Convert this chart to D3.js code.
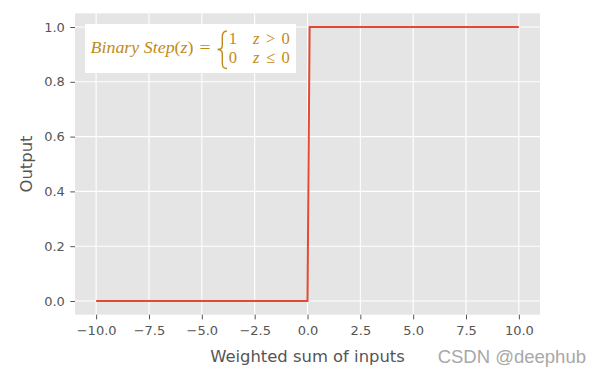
<!DOCTYPE html>
<html>
<head>
<meta charset="utf-8">
<script src="https://cdn.jsdelivr.net/npm/d3@7"></script>
<style>
  html, body { margin: 0; padding: 0; background: #fff; }
  svg { display: block; }
</style>
</head>
<body>
<svg id="chart" width="600" height="376"></svg>
<script>
// ---- data ----
const xValues = [-10, 0, 0.1, 10];
const yValues = [0, 0, 1, 1];
const xTicks = [-10, -7.5, -5, -2.5, 0, 2.5, 5, 7.5, 10];
const yTicks = [0, 0.2, 0.4, 0.6, 0.8, 1.0];
const xLabel = "Weighted sum of inputs";
const yLabel = "Output";
const watermark = "CSDN @deephub";

// ---- layout ----
const W = 600, H = 376;
const plot = { left: 75, right: 540, top: 13.3, bottom: 314.7 };
const svg = d3.select("#chart");

const x = d3.scaleLinear().domain([-11, 11]).range([plot.left, plot.right]);
const y = d3.scaleLinear().domain([-0.05, 1.05]).range([plot.bottom, plot.top]);

// background
svg.append("rect")
  .attr("x", plot.left).attr("y", plot.top)
  .attr("width", plot.right - plot.left).attr("height", plot.bottom - plot.top)
  .attr("fill", "#E5E5E5");

// grid
const grid = svg.append("g");
grid.selectAll("line.vx").data(xTicks).enter().append("line")
  .attr("x1", d => x(d)).attr("x2", d => x(d))
  .attr("y1", plot.top).attr("y2", plot.bottom)
  .attr("stroke", "#fff").attr("stroke-width", 1.1);
grid.selectAll("line.hy").data(yTicks).enter().append("line")
  .attr("y1", d => y(d)).attr("y2", d => y(d))
  .attr("x1", plot.left).attr("x2", plot.right)
  .attr("stroke", "#fff").attr("stroke-width", 1.1);

// axes
const fmt = d3.format(".1f");
const xAxis = d3.axisBottom(x).tickValues(xTicks).tickFormat(fmt).tickSize(4.7).tickPadding(6.5);
const yAxis = d3.axisLeft(y).tickValues(yTicks).tickFormat(fmt).tickSize(4.7).tickPadding(5.5);

const gx = svg.append("g").attr("transform", `translate(0,${plot.bottom})`).call(xAxis);
const gy = svg.append("g").attr("transform", `translate(${plot.left},0)`).call(yAxis);
[gx, gy].forEach(g => {
  g.select(".domain").remove();
  g.selectAll(".tick line").attr("stroke", "#555555").attr("stroke-width", 1);
  g.selectAll(".tick text")
    .attr("fill", "#555555")
    .style("font-family", "DejaVu Sans")
    .style("font-size", "13px");
});

// line
const pts = xValues.map((v, i) => [v, yValues[i]]);
svg.append("path")
  .datum(pts)
  .attr("d", d3.line().x(d => x(d[0])).y(d => y(d[1])))
  .attr("fill", "none")
  .attr("stroke", "#E24A33")
  .attr("stroke-width", 2);

// axis labels
svg.append("text")
  .attr("x", (plot.left + plot.right) / 2).attr("y", 361.5)
  .attr("text-anchor", "middle")
  .attr("fill", "#555555")
  .style("font-family", "DejaVu Sans").style("font-size", "16.4px")
  .text(xLabel);

svg.append("text")
  .attr("transform", `translate(32,${(plot.top + plot.bottom) / 2}) rotate(-90)`)
  .attr("text-anchor", "middle")
  .attr("fill", "#555555")
  .style("font-family", "DejaVu Sans").style("font-size", "16.4px")
  .text(yLabel);

// annotation box
const gold = "#BF8B16";
const ann = svg.append("g");
ann.append("rect").attr("x", 85).attr("y", 24).attr("width", 211).attr("height", 49).attr("fill", "#fff");
const mfont = "'Liberation Serif', 'DejaVu Serif', serif";
const t1 = ann.append("text").attr("x", 90.5).attr("y", 52.5)
  .attr("fill", gold).style("font-family", mfont).style("font-size", "17.5px")
  .attr("textLength", 103).attr("lengthAdjust", "spacingAndGlyphs");
t1.append("tspan").style("font-style", "italic").text("Binary Step");
t1.append("tspan").text("(");
t1.append("tspan").style("font-style", "italic").text("z");
t1.append("tspan").text(")");
ann.append("text").attr("x", 199.5).attr("y", 52.5).attr("fill", gold)
  .style("font-family", mfont).style("font-size", "17.5px")
  .attr("textLength", 11).attr("lengthAdjust", "spacingAndGlyphs").text("=");
// brace
ann.append("path")
  .attr("d", "M227,31 C223,31 222.3,33.5 222.3,37 L222.3,45.5 C222.3,48.5 220.5,49.5 217.5,49.5 C220.5,49.5 222.3,50.5 222.3,53.5 L222.3,63 C222.3,66.5 223,68.5 227,68.5")
  .attr("fill", "none").attr("stroke", gold).attr("stroke-width", 1.4);
const rows = [
  { v: "1", rel: ">", by: 44 },
  { v: "0", rel: "\u2264", by: 62.5 }
];
rows.forEach(r => {
  ann.append("text").attr("x", 228.8).attr("y", r.by).attr("fill", gold)
    .style("font-family", mfont).style("font-size", "16.5px").text(r.v);
  ann.append("text").attr("x", 253).attr("y", r.by).attr("fill", gold)
    .style("font-family", mfont).style("font-size", "16.5px").style("font-style", "italic").text("z");
  ann.append("text").attr("x", 266).attr("y", r.by).attr("fill", gold)
    .style("font-family", mfont).style("font-size", "16.5px").text(r.rel);
  ann.append("text").attr("x", 281.5).attr("y", r.by).attr("fill", gold)
    .style("font-family", mfont).style("font-size", "16.5px").text("0");
});

// watermark
svg.append("text")
  .attr("x", 586).attr("y", 363)
  .attr("text-anchor", "end")
  .attr("fill", "#A8A8A8")
  .attr("stroke", "#fff").attr("stroke-width", 0.6).attr("paint-order", "stroke")
  .style("font-family", "'Liberation Sans', Arial, sans-serif").style("font-size", "18.5px")
  .text(watermark);
</script>
</body>
</html>
